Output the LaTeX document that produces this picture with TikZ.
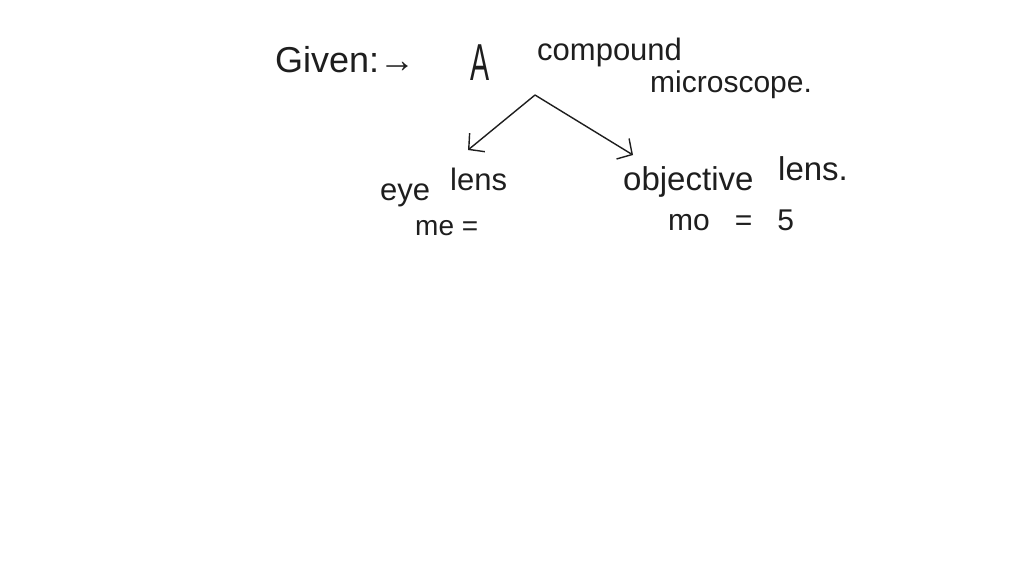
\documentclass[tikz,border=0pt]{standalone}
\usepackage{fontspec}
\setmainfont{Liberation Sans}
\usetikzlibrary{arrows.meta}
\definecolor{ink}{HTML}{1E1E1E}
\tikzset{
  hw/.style={inner sep=0pt, anchor=base west, text=ink, font=\fontsize{31}{36}\selectfont},
  hwbig/.style={hw, font=\fontsize{36}{42}\selectfont},
  branch/.style={draw=ink, line width=1.4pt, -{Straight Barb[length=11pt,width=24pt,line width=1.4pt]}}
}
\begin{document}
\begin{tikzpicture}[x=1pt,y=-1pt]
\useasboundingbox[fill=white] (0,0) rectangle (1024,576);
\node[hwbig] (given) at (275,72) {Given:→};
\node[hw, font=\fontsize{52}{60}\selectfont, xscale=0.55, transform shape] (A) at (470,80) {A};
\node[hw] (compound) at (537,60) {compound};
\node[hw, font=\fontsize{30}{36}\selectfont] (microscope) at (650,92) {microscope.};
\coordinate (apex) at (535,95);
\coordinate (eyetip) at (468,150);
\coordinate (objtip) at (633,155);
\draw[branch] (apex) -- (eyetip);
\draw[branch] (apex) -- (objtip);
\node[hw] (eye) at (380,200) {eye};
\node[hw] (lens1) at (450,190) {lens};
\node[hw, font=\fontsize{28}{32}\selectfont] (me) at (415,235) {me =};
\node[hw, font=\fontsize{33}{38}\selectfont] (objective) at (623,190) {objective};
\node[hw, font=\fontsize{33}{38}\selectfont] (lens2) at (778,180) {lens.};
\node[hw, font=\fontsize{30}{34}\selectfont] (mo) at (668,230) {mo \ \ = \ \ 5};
\end{tikzpicture}
\end{document}
